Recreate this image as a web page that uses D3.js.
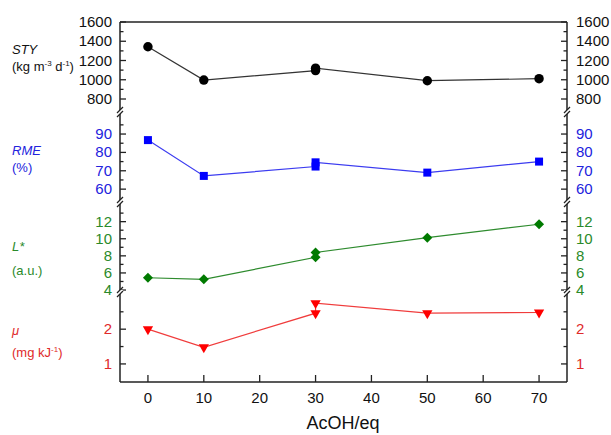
<!DOCTYPE html>
<html>
<head>
<meta charset="utf-8">
<script src="https://cdn.jsdelivr.net/npm/d3@7"></script>
<style>
  body { margin: 0; background: #fff; }
  svg text { font-family: "Liberation Sans", Arial, sans-serif; }
</style>
</head>
<body>
<div id="chart"></div>
<script>
// x positions (two runs at 30 eq)
const xVals = [0, 10, 30, 30, 50, 70];
const xTicks = [0, 10, 20, 30, 40, 50, 60, 70];

// series values
const sty   = [1343, 997, 1095, 1120, 990, 1011];
const rme   = [86.7, 67.2, 72.3, 74.6, 69.0, 75.0];
const lstar = [5.44, 5.25, 7.83, 8.40, 10.13, 11.7];
const mu    = [2.00, 1.48, 2.46, 2.75, 2.46, 2.48];

// tick labels per panel
const styTicks = [800, 1000, 1200, 1400, 1600];
const rmeTicks = [60, 70, 80, 90];
const lTicks   = [4, 6, 8, 10, 12];
const muTicks  = [1, 2];

const width = 611, height = 435;
const margin = {top: 22, right: 44, bottom: 53, left: 120};
const plotW = width - margin.left - margin.right;
const plotH = height - margin.top - margin.bottom;
const bandH = plotH / 4;

const panels = [
  {name: "STY", unit: ["(kg m", "-3", " d", "-1", ")"], values: sty, domain: [665, 1600],
   ticks: styTicks, minor: [900, 1100, 1300, 1500], color: "#000", line: "#333", text: "#111",
   symbol: d3.symbolCircle, size: 70, rotate: 0, nameY: 54, unitY: 71},
  {name: "RME", unit: ["(%)"], values: rme, domain: [53, 102],
   ticks: rmeTicks, minor: [65, 75, 85, 95], color: "#0000ff", line: "#3c3cf0", text: "#2222dd",
   symbol: d3.symbolSquare, size: 64, rotate: 0, nameY: 155, unitY: 172},
  {name: "L*", unit: ["(a.u.)"], values: lstar, domain: [3.77, 14.3],
   ticks: lTicks, minor: [5, 7, 9, 11, 13], color: "#007a00", line: "#2e8b2e", text: "#2a8a2a",
   symbol: d3.symbolSquare, size: 50, rotate: 45, nameY: 251, unitY: 275},
  {name: "\u03bc", unit: ["(mg kJ", "-1", ")"], values: mu, domain: [0.48, 3.07],
   ticks: muTicks, minor: [1.5, 2.5], color: "#ff0000", line: "#f03c3c", text: "#e02a2a",
   symbol: d3.symbolTriangle, size: 46, rotate: 180, nameY: 335, unitY: 357}
];

const svg = d3.select("#chart").append("svg")
  .attr("width", width)
  .attr("height", height);

const x = d3.scaleLinear().domain([-5, 75]).range([margin.left, margin.left + plotW]);

const xL = margin.left, xR = margin.left + plotW;

panels.forEach((p, i) => {
  const top = margin.top + i * bandH;
  const y = d3.scaleLinear().domain(p.domain).range([top + bandH, top]);
  const g = svg.append("g");

  // axis ticks, inward, left and right
  [xL, xR].forEach(ax => {
    const dir = ax === xL ? 1 : -1;
    g.selectAll(null).data(p.ticks).enter().append("line")
      .attr("x1", ax).attr("x2", ax + dir * 6)
      .attr("y1", d => y(d)).attr("y2", d => y(d))
      .attr("stroke", "#222").attr("stroke-width", 1.3);
    g.selectAll(null).data(p.minor).enter().append("line")
      .attr("x1", ax).attr("x2", ax + dir * 3.5)
      .attr("y1", d => y(d)).attr("y2", d => y(d))
      .attr("stroke", "#222").attr("stroke-width", 1.3);
    g.selectAll(null).data(p.ticks).enter().append("text")
      .attr("x", ax === xL ? ax - 8 : ax + 9)
      .attr("y", d => y(d) + 5)
      .attr("text-anchor", ax === xL ? "end" : "start")
      .attr("font-size", 15)
      .attr("fill", p.text)
      .text(d => d);
  });

  // series label
  g.append("text")
    .attr("x", 12).attr("y", p.nameY)
    .attr("font-size", 13).attr("font-style", "italic")
    .attr("fill", p.text).text(p.name);
  const u = g.append("text")
    .attr("x", 12).attr("y", p.unitY)
    .attr("font-size", 13).attr("fill", p.text);
  p.unit.forEach((s, k) => {
    const sup = s.startsWith("-");
    const prevSup = k > 0 && p.unit[k - 1].startsWith("-");
    u.append("tspan")
      .attr("font-size", sup ? 8 : 13)
      .attr("dy", sup ? -5 : (prevSup ? 5 : 0))
      .text(s);
  });

  // data line + markers
  const pts = xVals.map((xv, k) => [xv, p.values[k]]);
  g.append("path")
    .datum(pts)
    .attr("fill", "none")
    .attr("stroke", p.line)
    .attr("stroke-width", 1.2)
    .attr("d", d3.line().x(d => x(d[0])).y(d => y(d[1])));

  g.selectAll(null).data(pts).enter().append("path")
    .attr("d", d3.symbol().type(p.symbol).size(p.size))
    .attr("transform", d => `translate(${x(d[0])},${y(d[1])}) rotate(${p.rotate})`)
    .attr("fill", p.color);
});

// frame
svg.append("line").attr("x1", xL).attr("x2", xR).attr("y1", margin.top).attr("y2", margin.top)
  .attr("stroke", "#222").attr("stroke-width", 1.5);
svg.append("line").attr("x1", xL).attr("x2", xR).attr("y1", margin.top + plotH).attr("y2", margin.top + plotH)
  .attr("stroke", "#222").attr("stroke-width", 1.5);
[xL, xR].forEach(ax => {
  svg.append("line").attr("x1", ax).attr("x2", ax).attr("y1", margin.top).attr("y2", margin.top + plotH)
    .attr("stroke", "#222").attr("stroke-width", 1.5);
});

// axis breaks
const breaks = [1, 2, 3].map(i => margin.top + i * bandH);
[xL, xR].forEach(ax => {
  breaks.forEach(by => {
    svg.append("rect").attr("x", ax - 3).attr("y", by - 2).attr("width", 6).attr("height", 4).attr("fill", "#fff");
    [-2, 2].forEach(o => {
      svg.append("line")
        .attr("x1", ax - 3).attr("x2", ax + 3)
        .attr("y1", by + o + 3).attr("y2", by + o - 3)
        .attr("stroke", "#222").attr("stroke-width", 1.2);
    });
  });
});

// x axis
const xb = margin.top + plotH;
svg.append("g").selectAll("line").data(xTicks).enter().append("line")
  .attr("x1", d => x(d)).attr("x2", d => x(d))
  .attr("y1", xb).attr("y2", xb - 7)
  .attr("stroke", "#222").attr("stroke-width", 1.3);
svg.append("g").selectAll("text").data(xTicks).enter().append("text")
  .attr("x", d => x(d)).attr("y", xb + 21)
  .attr("text-anchor", "middle").attr("font-size", 15).attr("fill", "#111")
  .text(d => d);
svg.append("text")
  .attr("x", 343).attr("y", 429)
  .attr("text-anchor", "middle").attr("font-size", 18).attr("fill", "#111")
  .text("AcOH/eq");
</script>
</body>
</html>
